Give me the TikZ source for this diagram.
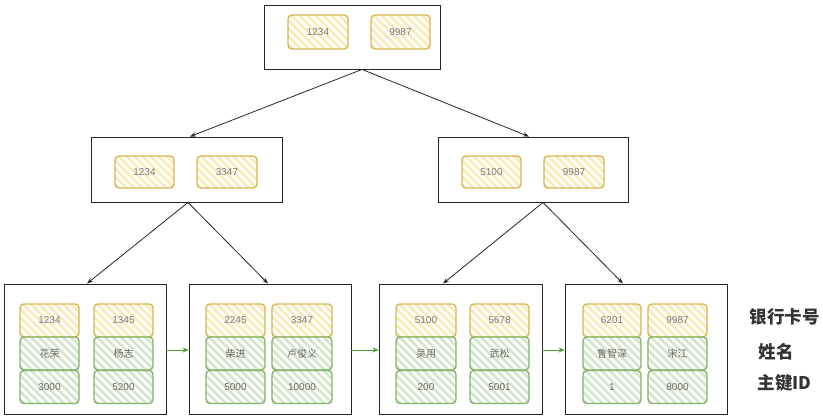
\documentclass[tikz,border=0pt]{standalone}
\usepackage{fontspec}
\setmainfont{Liberation Sans}
\newfontfamily\cjk{Noto Sans CJK SC}
\usetikzlibrary{arrows.meta}
\definecolor{yb}{HTML}{D6B656}
\definecolor{yh}{HTML}{F8EBB8}
\definecolor{gb}{HTML}{82B366}
\definecolor{gh}{HTML}{D3E8CB}
\definecolor{txt}{HTML}{7A7A7A}
\definecolor{lab}{HTML}{333333}
\definecolor{garr}{HTML}{4E9A2E}
\tikzset{
  hatch/.style={path picture={
    \foreach \k in {-90,-82,...,90}{
      \draw[#1,line width=2.6pt] ([xshift={\k pt-45pt},yshift=45pt]path picture bounding box.center) -- ++(90pt,-90pt);
    }}},
  box/.style={draw=black!85,line width=0.9pt,fill=white,inner sep=0pt},
  ykey/.style={draw=yb,line width=1.4pt,rounded corners=4pt,fill=white,hatch=yh,inner sep=0pt,
    minimum height=33pt,text=txt,font=\fontsize{10}{11}\selectfont},
  gkey/.style={draw=gb,line width=1.4pt,rounded corners=4pt,fill=white,hatch=gh,inner sep=0pt,
    minimum height=33pt,minimum width=59pt,text=txt!85!black,font=\fontsize{10}{11}\selectfont},
  tarr/.style={draw=black!85,line width=0.8pt,-{Stealth[length=6pt,width=4.5pt,open]}},
  garrow/.style={draw=garr,line width=1pt,-{Stealth[length=6pt,width=5pt]}},
  lbl/.style={anchor=west,text=lab,font=\cjk\bfseries\fontsize{17.5}{19}\selectfont}
}
\begin{document}
\begin{tikzpicture}[x=1pt,y=-1pt]
\useasboundingbox (0,0) rectangle (823,417);
% root
\node[box,minimum width=176pt,minimum height=64pt] (root) at (352,37) {};
\node[ykey,minimum width=60pt,minimum height=34pt] (r1) at (318,32) {1234};
\node[ykey,minimum width=59pt,minimum height=34pt] (r2) at (400.5,32) {9987};
% middle
\node[box,minimum width=191pt,minimum height=65pt] (ml) at (186.5,169.5) {};
\node[ykey,minimum width=59pt,minimum height=32pt] (ml1) at (144.5,172) {1234};
\node[ykey,minimum width=60pt,minimum height=32pt] (ml2) at (227,172) {3347};
\node[box,minimum width=190pt,minimum height=65pt] (mr) at (533,169.5) {};
\node[ykey,minimum width=59pt,minimum height=32pt] (mr1) at (491.5,172) {5100};
\node[ykey,minimum width=60pt,minimum height=32pt] (mr2) at (574,172) {9987};
% leaves
\node[box,minimum width=162pt,minimum height=130pt] (l1) at (85,349) {};
\node[box,minimum width=162pt,minimum height=130pt] (l2) at (270,349) {};
\node[box,minimum width=163pt,minimum height=130pt] (l3) at (460.5,349) {};
\node[box,minimum width=162pt,minimum height=130pt] (l4) at (646,349) {};
% leaf 1
\node[ykey,minimum width=59pt] (a1) at (49.5,320.5) {1234};
\node[gkey] (a2) at (49.5,353.5) {\cjk 花荣};
\node[gkey] (a3) at (49.5,387) {3000};
\node[ykey,minimum width=59pt] (b1) at (123.5,320.5) {1345};
\node[gkey] (b2) at (123.5,353.5) {\cjk 杨志};
\node[gkey] (b3) at (123.5,387) {5200};
% leaf 2
\node[ykey,minimum width=59pt] (c1) at (235.5,320.5) {2245};
\node[gkey] (c2) at (235.5,353.5) {\cjk 柴进};
\node[gkey] (c3) at (235.5,387) {5000};
\node[ykey,minimum width=60pt] (d1) at (302,320.5) {3347};
\node[gkey,minimum width=60pt] (d2) at (302,353.5) {\cjk 卢俊义};
\node[gkey,minimum width=60pt] (d3) at (302,387) {10000};
% leaf 3
\node[ykey,minimum width=60pt] (e1) at (426,320.5) {5100};
\node[gkey,minimum width=60pt] (e2) at (426,353.5) {\cjk 吴用};
\node[gkey,minimum width=60pt] (e3) at (426,387) {200};
\node[ykey,minimum width=59pt] (f1) at (499.5,320.5) {5678};
\node[gkey] (f2) at (499.5,353.5) {\cjk 武松};
\node[gkey] (f3) at (499.5,387) {5001};
% leaf 4
\node[ykey,minimum width=58pt] (g1) at (612,320.5) {6201};
\node[gkey,minimum width=58pt] (g2) at (612,353.5) {\cjk 鲁智深};
\node[gkey,minimum width=58pt] (g3) at (612,387) {1};
\node[ykey,minimum width=59pt] (h1) at (677.5,320.5) {9987};
\node[gkey] (h2) at (677.5,353.5) {\cjk 宋江};
\node[gkey] (h3) at (677.5,387) {8000};
% labels
\node[lbl] (t1) at (746,317) {银行卡号};
\node[lbl] (t2) at (755,352) {姓名};
\node[lbl] (t3) at (754,383) {主键ID};
% tree connectors
\draw[tarr] ([xshift=10pt]root.south) -- ([xshift=3.5pt]ml.north);
\draw[tarr] ([xshift=10pt]root.south) -- ([xshift=-4pt]mr.north);
\draw[tarr] ([xshift=1.5pt]ml.south) -- ([xshift=2pt]l1.north);
\draw[tarr] ([xshift=1.5pt]ml.south) -- ([xshift=-2pt]l2.north);
\draw[tarr] ([xshift=10pt]mr.south) -- ([xshift=-17.5pt]l3.north);
\draw[tarr] ([xshift=10pt]mr.south) -- ([xshift=-23pt]l4.north);
% leaf links
\draw[garrow] ([yshift=-1pt]l1.east) -- ([yshift=-1pt]l2.west);
\draw[garrow] ([yshift=-1pt]l2.east) -- ([yshift=-1pt]l3.west);
\draw[garrow] ([yshift=-1pt]l3.east) -- ([yshift=-1pt]l4.west);
\end{tikzpicture}
\end{document}
